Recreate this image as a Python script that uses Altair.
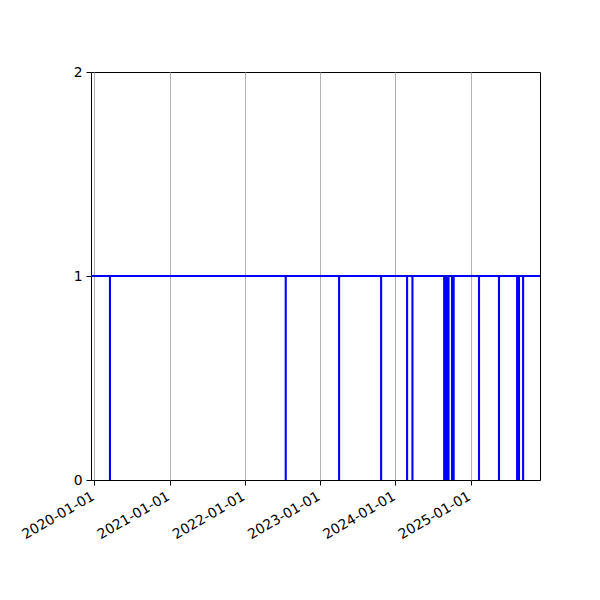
import altair as alt
import pandas as pd

# ---- data ----
start_date = "2019-12-16"
end_date = "2025-12-03"
normal_value = 1
dip_value = 0
dip_dates = [
    "2020-03-17", "2022-07-18", "2023-04-03", "2023-10-24",
    "2024-02-27", "2024-03-24", "2024-08-25", "2024-09-01",
    "2024-09-08", "2024-09-15", "2024-10-02", "2024-10-10",
    "2025-02-10", "2025-05-18", "2025-08-14", "2025-08-23",
    "2025-09-12",
]
tick_years = [2020, 2021, 2022, 2023, 2024, 2025]
y_ticks = [0, 1, 2]

# ---- build table ----
dates = [start_date]
values = [normal_value]
for d in dip_dates:
    dates += [d, d, d]
    values += [normal_value, dip_value, normal_value]
dates.append(end_date)
values.append(normal_value)
df = pd.DataFrame({"date": dates, "value": values, "order": list(range(len(dates)))})

font = "DejaVu Sans"

x_axis = alt.Axis(
    values=[alt.DateTime(year=y, month=1, date=1, utc=True) for y in tick_years],
    labelExpr="utcFormat(datum.value, '%Y-%m-%d')",
    labelAngle=330, labelAlign="right", labelBaseline="top",
    labelFont=font, labelFontSize=13.9, labelColor="black",
    labelPadding=4, labelOffset=-5,
    grid=True, gridColor="#b0b0b0", gridWidth=1,
    tickColor="black", tickSize=5, tickWidth=1,
    domain=False, labelOverlap=False, labelFlush=False,
)
y_axis = alt.Axis(
    values=y_ticks,
    labelExpr="format(datum.value, 'd')",
    labelFont=font, labelFontSize=13.9, labelColor="black",
    labelPadding=4, labelBaseline="middle",
    grid=False, tickColor="black", tickSize=5, tickWidth=1,
    domain=False, labelOverlap=False, labelFlush=False,
)

chart = alt.Chart(df).mark_line(color="#0000ff", strokeWidth=2.1, clip=True).encode(
    x=alt.X("date:T", title=None,
            scale=alt.Scale(type="utc", nice=False,
                            domain=[alt.DateTime(year=2019, month=12, date=16, utc=True),
                                    alt.DateTime(year=2025, month=12, date=3, utc=True)]),
            axis=x_axis),
    y=alt.Y("value:Q", title=None, scale=alt.Scale(domain=[0, 2], nice=False, zero=False), axis=y_axis),
    order="order:Q",
).properties(
    width=449, height=408,
    autosize=alt.AutoSizeParams(type="none"),
    padding={"left": 83, "top": 64, "right": 52, "bottom": 112},
    background="white",
).configure_view(stroke="black", strokeWidth=1)

chart.save("out.html", embed_options={"renderer": "svg", "actions": False})
